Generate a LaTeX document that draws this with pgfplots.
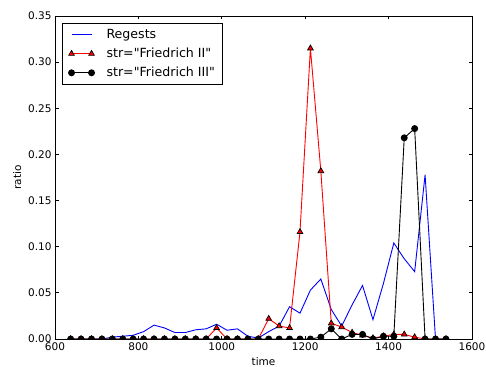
\documentclass[border=0pt]{standalone}
\usepackage{fontspec}
\setmainfont{DejaVu Sans}[Ligatures=TeXOff]
\usepackage{pgfplots}
\usepackage{pgfplotstable}
\pgfplotsset{compat=1.18}
\newcommand{\dq}{\symbol{34}}
\pgfplotstableread{
x reg f2 f3
637.5 0 0 0
662.5 0 0 0
687.5 0 0 0
712.5 0 0 0
737.5 0.002 0 0
762.5 0.003 0 0
787.5 0.004 0 0
812.5 0.008 0 0
837.5 0.015 0 0
862.5 0.012 0 0
887.5 0.007 0 0
912.5 0.007 0 0
937.5 0.010 0 0
962.5 0.011 0 0
987.5 0.016 0.012 0
1012.5 0.0095 0 0
1037.5 0.011 0 0
1062.5 0.003 0 0
1087.5 0.001 0 0
1112.5 0.008 0.022 0
1137.5 0.014 0.014 0
1162.5 0.035 0.012 0
1187.5 0.028 0.116 0
1212.5 0.053 0.315 0
1237.5 0.065 0.182 0.002
1262.5 0.032 0.017 0.011
1287.5 0.014 0.013 0
1312.5 0.037 0.007 0.005
1337.5 0.058 0.004 0.005
1362.5 0.021 0.001 0
1387.5 0.060 0.003 0.003
1412.5 0.104 0.005 0.003
1437.5 0.087 0.005 0.218
1462.5 0.073 0.002 0.228
1487.5 0.178 0 0
1512.5 0 0 0
1537.5 0 0 0
}\datatable
\begin{document}
\begin{tikzpicture}
\path[use as bounding box] (0,0) rectangle (486bp,367bp);
\begin{axis}[
  at={(55bp,28bp)}, anchor=south west,
  width=417bp, height=323bp, scale only axis,
  xmin=600, xmax=1600, ymin=0, ymax=0.35,
  xtick={600,800,1000,1200,1400,1600},
  ytick={0,0.05,0.1,0.15,0.2,0.25,0.3,0.35},
  tick align=inside, tick pos=both,
  xticklabel pos=left, yticklabel pos=left,
  major tick length=3.5bp,
  axis line style={line width=0.9bp},
  every tick/.style={line width=0.9bp, black},
  axis on top,
  clip marker paths=true,
  ticklabel style={font=\fontsize{10.5bp}{12bp}\selectfont},
  /pgf/number format/assume math mode=true,
  x tick label style={/pgf/number format/.cd, fixed, set thousands separator={}},
  y tick label style={/pgf/number format/.cd, fixed, fixed zerofill, precision=2},
  xlabel={time}, ylabel={ratio},
  label style={font=\fontsize{10.5bp}{12bp}\selectfont},
  legend style={at={(axis description cs:0.017,0.978)}, anchor=north west,
    draw=black, line width=0.9bp, font=\fontsize{12.6bp}{14bp}\selectfont,
    inner xsep=6bp, inner ysep=4bp, row sep=4bp,
    /tikz/every odd column/.append style={column sep=10bp}},
  legend cell align=left,
  legend image code/.code={
    \draw[mark indices={1,3}] plot coordinates {(0bp,0bp) (10bp,0bp) (20bp,0bp)};
  },
]
\addplot[blue, line width=0.9bp] table[x=x, y=reg] {\datatable};
\addlegendentry{Regests}
\addplot[red, line width=0.9bp, mark=triangle*, mark size=3.3bp,
  mark options={solid, fill=red, draw=black, line width=0.7bp}] table[x=x, y=f2] {\datatable};
\addlegendentry{str=\dq Friedrich II\dq}
\addplot[black, line width=0.9bp, mark=*, mark size=3bp,
  mark options={solid, fill=black}] table[x=x, y=f3] {\datatable};
\addlegendentry{str=\dq Friedrich III\dq}
\end{axis}
\end{tikzpicture}
\end{document}
